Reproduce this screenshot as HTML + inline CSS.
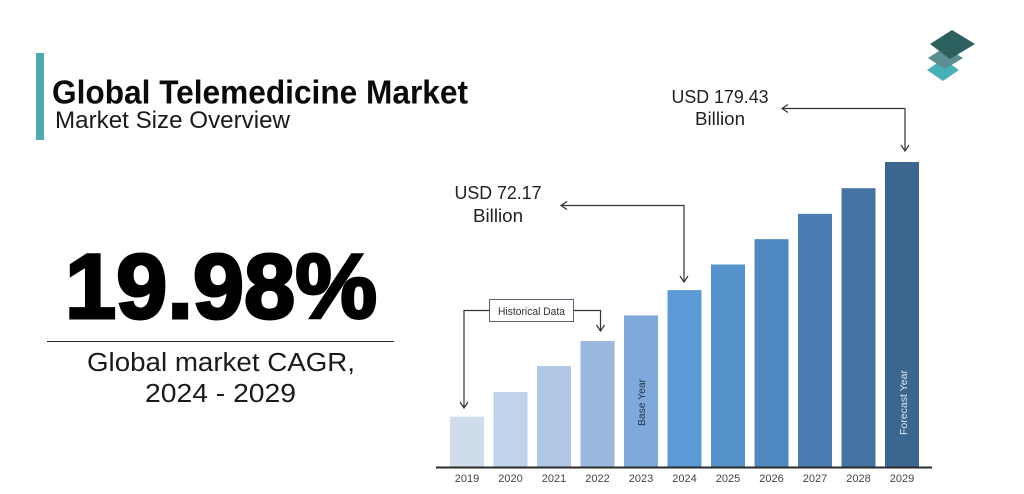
<!DOCTYPE html>
<html lang="en">
<head>
<meta charset="utf-8">
<title>Global Telemedicine Market</title>
<style>
html,body{margin:0;padding:0;background:#fff;width:1024px;height:494px;overflow:hidden}
svg{display:block;font-family:"Liberation Sans",sans-serif}
</style>
</head>
<body>
<svg id="chart" xmlns="http://www.w3.org/2000/svg" width="1024" height="494" viewBox="0 0 1024 494">
  <defs>
    <marker id="arrow" markerWidth="12" markerHeight="12" refX="9.5" refY="5" orient="auto" markerUnits="userSpaceOnUse">
      <path d="M3.5 1 L9.5 5 L3.5 9" fill="none" stroke="#333" stroke-width="1.2"/>
    </marker>
  </defs>
  <rect width="1024" height="494" fill="#fff"/>

  <rect x="36" y="53" width="8" height="87" fill="#4daaad"/>
  <text x="52" y="103.5" font-size="33" font-weight="700" fill="#0a0a0a" textLength="416" lengthAdjust="spacingAndGlyphs">Global Telemedicine Market</text>
  <text x="55" y="128" font-size="24.5" fill="#1a1a1a" textLength="235" lengthAdjust="spacingAndGlyphs">Market Size Overview</text>

  <g>
    <path d="M943 59 L959 70 L943 81 L927 70 Z" fill="#46b0b4"/>
    <path d="M945 47 L963 58 L945 69 L928 58 Z" fill="#5c8f92"/>
    <path d="M952 30 L975 44 L950 59 L930 44 Z" fill="#2c615f"/>
  </g>

  <text x="65" y="318" font-size="92" font-weight="700" fill="#000" stroke="#000" stroke-width="3" textLength="312" lengthAdjust="spacingAndGlyphs">19.98%</text>
  <line x1="47" y1="341.5" x2="394" y2="341.5" stroke="#222" stroke-width="1"/>
  <text x="87" y="371" font-size="25.5" fill="#1a1a1a" textLength="268" lengthAdjust="spacingAndGlyphs">Global market CAGR,</text>
  <text x="145" y="402" font-size="25.5" fill="#1a1a1a" textLength="151" lengthAdjust="spacingAndGlyphs">2024 - 2029</text>

  <g id="bars"></g>
  <g id="labels"></g>
  <line x1="436" y1="467.5" x2="932" y2="467.5" stroke="#2b2b2b" stroke-width="2"/>

  <text transform="translate(645 426) rotate(-90)" font-size="10.5" fill="#1f2f45" textLength="47" lengthAdjust="spacingAndGlyphs">Base Year</text>
  <text transform="translate(907 435) rotate(-90)" font-size="10.5" fill="#dbe5ef" textLength="65" lengthAdjust="spacingAndGlyphs">Forecast Year</text>

  <rect x="489.5" y="299.5" width="84" height="22" fill="#fff" stroke="#5a6470" stroke-width="1"/>
  <text x="498" y="315" font-size="11" fill="#333" textLength="67" lengthAdjust="spacingAndGlyphs">Historical Data</text>
  <path d="M489 310.5 H464 V408" fill="none" stroke="#333" stroke-width="1.2" marker-end="url(#arrow)"/>
  <path d="M574 310.5 H600.5 V331" fill="none" stroke="#333" stroke-width="1.2" marker-end="url(#arrow)"/>

  <text x="498" y="199" font-size="18" fill="#222" text-anchor="middle" textLength="87" lengthAdjust="spacingAndGlyphs">USD 72.17</text>
  <text x="498" y="222" font-size="18" fill="#222" text-anchor="middle" textLength="50" lengthAdjust="spacingAndGlyphs">Billion</text>
  <path d="M684 282 V205.5 H561" fill="none" stroke="#333" stroke-width="1.2" marker-end="url(#arrow)"/>
  <path d="M680 276 L684 282 L688 276" fill="none" stroke="#333" stroke-width="1.2"/>

  <text x="720" y="103" font-size="18" fill="#222" text-anchor="middle" textLength="97" lengthAdjust="spacingAndGlyphs">USD 179.43</text>
  <text x="720" y="125" font-size="18" fill="#222" text-anchor="middle" textLength="50" lengthAdjust="spacingAndGlyphs">Billion</text>
  <path d="M905 151 V108.5 H782" fill="none" stroke="#333" stroke-width="1.2" marker-end="url(#arrow)"/>
  <path d="M901 145 L905 151 L909 145" fill="none" stroke="#333" stroke-width="1.2"/>
</svg>
<script>
// Relative bar size (2029 = 100)
const categories = ["2019","2020","2021","2022","2023","2024","2025","2026","2027","2028","2029"];
const barValues = [16.5, 24.6, 33.1, 41.3, 49.7, 58.0, 66.4, 74.7, 83.0, 91.4, 100];
const barColors = ["#cfdcec","#c0d3ea","#afc7e5","#99b9df","#7ea9da","#5b9ad6","#5693cd","#4f88c0","#4a7eb2","#4374a4","#3b6690"];

const NS = "http://www.w3.org/2000/svg";
const baseline = 467, plotHeight = 305, firstX = 450, step = 43.5, barWidth = 34;
const xScale = i => firstX + step * i;
const yScale = v => baseline - (v / 100) * plotHeight;

const barsGroup = document.getElementById("bars");
const labelsGroup = document.getElementById("labels");

categories.forEach((cat, i) => {
  const rect = document.createElementNS(NS, "rect");
  
  
  const top = yScale(barValues[i]);
  rect.setAttribute("x", xScale(i));
  rect.setAttribute("y", top);
  rect.setAttribute("width", barWidth);
  rect.setAttribute("height", baseline - top);
  rect.setAttribute("fill", barColors[i]);
  barsGroup.appendChild(rect);

  const label = document.createElementNS(NS, "text");
  
  
  label.setAttribute("x", xScale(i) + barWidth / 2);
  label.setAttribute("y", 482);
  label.setAttribute("font-size", "11");
  label.setAttribute("fill", "#444");
  label.setAttribute("text-anchor", "middle");
  label.textContent = cat;
  labelsGroup.appendChild(label);
});
</script>
</body>
</html>
